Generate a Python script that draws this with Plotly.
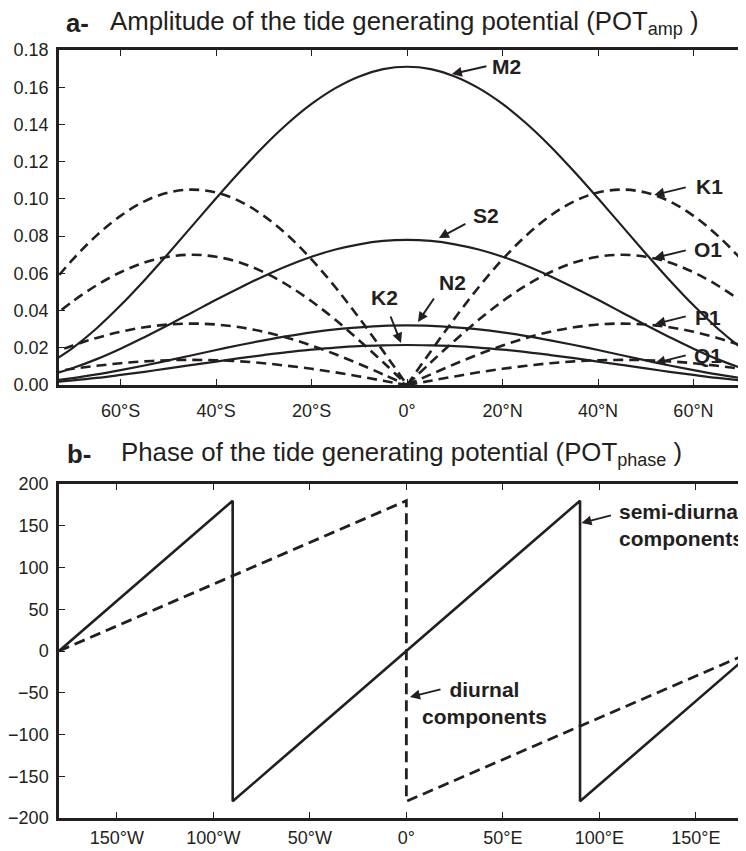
import plotly.graph_objects as go

# ---------------- data ----------------
lat = [-75, -70, -65, -60, -55, -50, -45, -40, -35, -30, -25, -20, -15, -10, -5, 0,
       5, 10, 15, 20, 25, 30, 35, 40, 45, 50, 55, 60, 65, 70, 75]

# semi-diurnal amplitudes (solid)
M2 = [.0115, .0200, .0305, .0428, .0563, .0707, .0855, .1003, .1147, .1283, .1405, .1510, .1595, .1658, .1697, .1710,
      .1697, .1658, .1595, .1510, .1405, .1283, .1147, .1003, .0855, .0707, .0563, .0428, .0305, .0200, .0115]
S2 = [.0052, .0091, .0139, .0195, .0257, .0322, .0390, .0458, .0523, .0585, .0641, .0689, .0728, .0756, .0774, .0780,
      .0774, .0756, .0728, .0689, .0641, .0585, .0523, .0458, .0390, .0322, .0257, .0195, .0139, .0091, .0052]
N2 = [.0021, .0037, .0057, .0080, .0105, .0132, .0160, .0188, .0215, .0240, .0263, .0283, .0299, .0310, .0318, .0320,
      .0318, .0310, .0299, .0283, .0263, .0240, .0215, .0188, .0160, .0132, .0105, .0080, .0057, .0037, .0021]
K2 = [.0014, .0025, .0038, .0054, .0071, .0089, .0108, .0126, .0144, .0161, .0177, .0190, .0201, .0209, .0213, .0215,
      .0213, .0209, .0201, .0190, .0177, .0161, .0144, .0126, .0108, .0089, .0071, .0054, .0038, .0025, .0014]

# diurnal amplitudes (dashed)
K1 = [.0525, .0675, .0804, .0909, .0987, .1034, .1050, .1034, .0987, .0909, .0804, .0675, .0525, .0359, .0182, 0.0,
      .0182, .0359, .0525, .0675, .0804, .0909, .0987, .1034, .1050, .1034, .0987, .0909, .0804, .0675, .0525]
O1 = [.0350, .0450, .0536, .0606, .0658, .0689, .0700, .0689, .0658, .0606, .0536, .0450, .0350, .0239, .0122, 0.0,
      .0122, .0239, .0350, .0450, .0536, .0606, .0658, .0689, .0700, .0689, .0658, .0606, .0536, .0450, .0350]
P1 = [.0165, .0212, .0253, .0286, .0310, .0325, .0330, .0325, .0310, .0286, .0253, .0212, .0165, .0113, .0057, 0.0,
      .0057, .0113, .0165, .0212, .0253, .0286, .0310, .0325, .0330, .0325, .0310, .0286, .0253, .0212, .0165]
Q1 = [.0068, .0087, .0103, .0117, .0127, .0133, .0135, .0133, .0127, .0117, .0103, .0087, .0068, .0046, .0023, 0.0,
      .0023, .0046, .0068, .0087, .0103, .0117, .0127, .0133, .0135, .0133, .0127, .0117, .0103, .0087, .0068]

semi_diurnal = {"M2": M2, "S2": S2, "N2": N2, "K2": K2}
diurnal = {"K1": K1, "O1": O1, "P1": P1, "Q1": Q1}

# phase vs longitude
lon_semi = [-180, -90, -90, 90, 90, 180]
phase_semi = [0, 180, -180, 180, -180, 0]
lon_diurnal = [-180, 0, 0, 180]
phase_diurnal = [0, 180, -180, 0]

lat_ticks = [-60, -40, -20, 0, 20, 40, 60]
lat_labels = ["60°S", "40°S", "20°S", "0°", "20°N", "40°N", "60°N"]
lon_ticks = [-150, -100, -50, 0, 50, 100, 150]
lon_labels = ["150°W", "100°W", "50°W", "0°", "50°E", "100°E", "150°E"]
amp_ticks = [0, 0.02, 0.04, 0.06, 0.08, 0.10, 0.12, 0.14, 0.16, 0.18]
phase_ticks = [-200, -150, -100, -50, 0, 50, 100, 150, 200]

# ---------------- figure ----------------
INK = "#231f20"
FONT = "Liberation Sans, Arial, sans-serif"
OFF = 8                      # page body margin
W, H = 746 - OFF, 851 - OFF
ML, MR, MT, MB = 57 - OFF, 0, 50 - OFF, 851 - 818
PW, PH = W - ML - MR, H - MT - MB


def px(x):
    """page pixel x -> paper fraction"""
    return (x - OFF - ML) / PW


def py(y):
    """page pixel y -> paper fraction"""
    return (H - MB - (y - OFF)) / PH


fig = go.Figure()

for name, vals in semi_diurnal.items():
    fig.add_trace(go.Scatter(x=lat, y=vals, mode="lines", name=name,
                             line=dict(color=INK, width=2.2, shape="spline", smoothing=1),
                             xaxis="x", yaxis="y", showlegend=False, hoverinfo="skip"))

mid = lat.index(0)
for name, vals in diurnal.items():
    for sl in (slice(0, mid + 1), slice(mid, None)):
        fig.add_trace(go.Scatter(x=lat[sl], y=vals[sl], mode="lines", name=name,
                                 line=dict(color=INK, width=2.6, dash="10px,6px",
                                           shape="spline", smoothing=1),
                                 xaxis="x", yaxis="y", showlegend=False, hoverinfo="skip"))

fig.add_trace(go.Scatter(x=lon_semi, y=phase_semi, mode="lines",
                         line=dict(color=INK, width=2.6),
                         xaxis="x2", yaxis="y2", showlegend=False, hoverinfo="skip"))
fig.add_trace(go.Scatter(x=lon_diurnal, y=phase_diurnal, mode="lines",
                         line=dict(color=INK, width=2.8, dash="11px,6px"),
                         xaxis="x2", yaxis="y2", showlegend=False, hoverinfo="skip"))

tickfont = dict(family=FONT, size=18, color=INK)
common_x = dict(showline=True, linewidth=2.5, linecolor=INK, mirror="ticks",
                ticks="inside", ticklen=6, tickwidth=1.3, tickcolor=INK,
                showgrid=False, zeroline=False, tickfont=tickfont)
common_y = dict(showline=True, linewidth=2.5, linecolor=INK, mirror=False,
                ticks="inside", ticklen=6, tickwidth=1.3, tickcolor=INK,
                showgrid=False, zeroline=False, tickfont=tickfont, ticklabelstandoff=4)

top_a, bot_a = 50, 385
top_b, bot_b = 484, 818

fig.update_layout(
    width=W, height=H,
    margin=dict(l=ML, r=MR, t=MT, b=MB),
    paper_bgcolor="white", plot_bgcolor="white",
    xaxis=dict(common_x, range=[-72.9, 71.0], tickvals=lat_ticks, ticktext=lat_labels,
               anchor="y", domain=[0, 1], ticklabelstandoff=8),
    yaxis=dict(common_y, range=[0, 0.18], tickvals=amp_ticks, tickformat=".2f",
               anchor="x", domain=[py(bot_a), py(top_a)]),
    xaxis2=dict(common_x, range=[-180, 176], tickvals=lon_ticks, ticktext=lon_labels,
                anchor="y2", domain=[0, 1], ticklabelstandoff=2),
    yaxis2=dict(common_y, range=[-200, 200], tickvals=phase_ticks,
                anchor="x2", domain=[py(bot_b), py(top_b)]),
)

ann = []
# titles
title_font = dict(family=FONT, size=25.8, color=INK)
ann.append(dict(text="<b>a-</b>", x=px(62), y=py(23), xanchor="left", yanchor="middle"))
ann.append(dict(text="Amplitude of the tide generating potential (POT<sub>amp</sub> )",
                x=px(106), y=py(23), xanchor="left", yanchor="middle"))
ann.append(dict(text="<b>b-</b>", x=px(63), y=py(454), xanchor="left", yanchor="middle"))
ann.append(dict(text="Phase of the tide generating potential (POT<sub>phase</sub> )",
                x=px(117), y=py(454), xanchor="left", yanchor="middle"))
for a in ann:
    a.update(xref="paper", yref="paper", showarrow=False, font=title_font)

label_font = dict(family=FONT, size=21, color=INK)
# (text, text centre px, arrow tail px, arrow head px)
labels = [
    ("M2", (506, 67), (487, 66), (451, 74)),
    ("S2", (485, 215), (466, 223), (438, 238)),
    ("N2", (452, 282), (434, 297), (417, 322)),
    ("K2", (383, 297), (389, 315), (400, 343)),
    ("K1", (709, 187), (687, 187), (654, 195)),
    ("O1", (708, 250), (687, 250), (654, 258)),
    ("P1", (708, 317), (687, 316), (655, 324)),
    ("Q1", (708, 355), (687, 355), (655, 363)),
]
for text, (tx, ty), (ax_, ay_), (hx, hy) in labels:
    ann.append(dict(text="<b>%s</b>" % text, x=px(tx), y=py(ty), xref="paper", yref="paper",
                    showarrow=False, font=label_font, xanchor="center", yanchor="middle"))
    ann.append(dict(text="", x=px(hx), y=py(hy), xref="paper", yref="paper",
                    showarrow=True, ax=ax_ - hx, ay=ay_ - hy, arrowhead=2, arrowsize=1,
                    arrowwidth=2, arrowcolor=INK))

ann.append(dict(text="<b>semi-diurnal<br>components</b>", x=px(617), y=py(525),
                xref="paper", yref="paper", showarrow=False, font=label_font,
                xanchor="left", yanchor="middle", align="left"))
ann.append(dict(text="", x=px(581), y=py(523), xref="paper", yref="paper", showarrow=True,
                ax=612 - 581, ay=515 - 523, arrowhead=2, arrowsize=1, arrowwidth=2, arrowcolor=INK))
ann.append(dict(text="<b>diurnal<br>components</b>", x=px(484), y=py(703),
                xref="paper", yref="paper", showarrow=False, font=label_font,
                xanchor="center", yanchor="middle", align="center"))
ann.append(dict(text="", x=px(409), y=py(697), xref="paper", yref="paper", showarrow=True,
                ax=441 - 409, ay=689 - 697, arrowhead=2, arrowsize=1, arrowwidth=2, arrowcolor=INK))

fig.update_layout(annotations=ann)

fig.write_html("out.html")
